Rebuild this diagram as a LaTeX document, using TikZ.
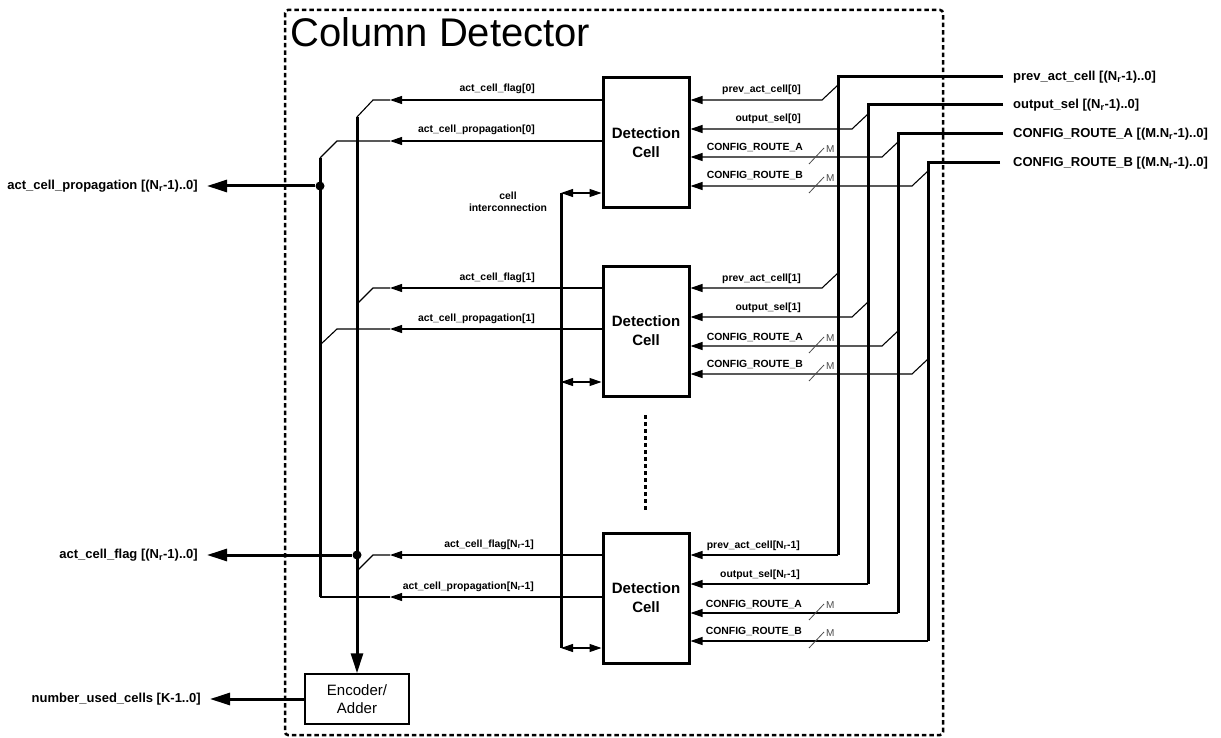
\documentclass[tikz,border=0pt]{standalone}
\usepackage{fontspec}
\setmainfont{Liberation Sans}
\usetikzlibrary{arrows.meta,calc}

\begin{document}
\begin{tikzpicture}[x=1pt,y=-1pt,
  bus/.style={line width=3pt,line cap=butt},
  sig/.style={line width=1.1pt},
  tipS/.style={-{Triangle[length=12pt,width=8pt]}},
  tipB/.style={-{Triangle[length=20pt,width=12pt]}},
  biarrow/.style={line width=1.1pt,{Triangle[length=12pt,width=8pt]}-{Triangle[length=12pt,width=8pt]}},
  cellbox/.style={draw,line width=3pt,minimum width=86pt,minimum height=130pt,
    align=center,font=\fontsize{15}{19}\selectfont\bfseries,inner sep=0pt},
  lbl/.style={font=\fontsize{10.4}{12}\selectfont\bfseries,inner sep=0pt},
  iolbl/.style={font=\fontsize{13}{15}\selectfont\bfseries,inner sep=0pt},
  mlbl/.style={font=\fontsize{10}{12}\selectfont,text=black!70,inner sep=0pt},
  slash/.style={line width=0.8pt,black!70},
  junction/.style={circle,fill,inner sep=0pt,minimum size=9pt},
]
\useasboundingbox (0,0) rectangle (1221,738);

% outer block
\draw[line width=2.5pt,dash pattern=on 4.5pt off 3pt,rounded corners=3pt] (285,10) rectangle (943,735);
\node[anchor=base west,font=\fontsize{40}{48}\selectfont,inner sep=0pt] (title) at (290,47) {Column Detector};

% detection cells
\node[cellbox] (c0) at (646,143) {Detection\\Cell};
\node[cellbox] (c1) at (646,331) {Detection\\Cell};
\node[cellbox] (c2) at (646,598) {Detection\\Cell};
\draw[line width=3pt,dash pattern=on 4pt off 3pt] (645,415) -- (645,512);

% input buses on the right
\coordinate (pA) at (838,77);  \coordinate (eA) at (1003,77);  \coordinate (qA) at (838,555);
\coordinate (pB) at (868,105); \coordinate (eB) at (1003,105); \coordinate (qB) at (868,584);
\coordinate (pC) at (898,134); \coordinate (eC) at (1003,134); \coordinate (qC) at (898,613);
\coordinate (pD) at (928,163); \coordinate (eD) at (1000,163); \coordinate (qD) at (928,641);
\draw[bus,line join=miter] (eA) -- (pA) -- (qA);
\draw[bus,line join=miter] (eB) -- (pB) -- (qB);
\draw[bus,line join=miter] (eC) -- (pC) -- (qC);
\draw[bus,line join=miter] (eD) -- (pD) -- (qD);
\node[iolbl,anchor=west] (lA) at (1013,77)  {prev\_act\_cell [(N\textsubscript{r}-1)..0]};
\node[iolbl,anchor=west] (lB) at (1013,105) {output\_sel [(N\textsubscript{r}-1)..0]};
\node[iolbl,anchor=west] (lC) at (1013,134) {CONFIG\_ROUTE\_A [(M.N\textsubscript{r}-1)..0]};
\node[iolbl,anchor=west] (lD) at (1013,163) {CONFIG\_ROUTE\_B [(M.N\textsubscript{r}-1)..0]};

% cell 0 inputs
\draw[sig,tipS] (pA |- 0,85)  -- (822,100) -- (c0.east |- 0,100);
\draw[sig,tipS] (pB |- 0,114) -- (852,129) -- (c0.east |- 0,129);
\draw[sig,tipS] (pC |- 0,142) -- (882,157) -- (c0.east |- 0,157);
\draw[sig,tipS] (pD |- 0,171) -- (912,186) -- (c0.east |- 0,186);
\node[lbl,anchor=base east] at (801,93)  {prev\_act\_cell[0]};
\node[lbl,anchor=base east] at (801,122) {output\_sel[0]};
\node[lbl,anchor=base east] at (803,151) {CONFIG\_ROUTE\_A};
\node[lbl,anchor=base east] at (803,179) {CONFIG\_ROUTE\_B};
\draw[slash] (809,164) -- (824,148); \node[mlbl,anchor=west] at (826,149) {M};
\draw[slash] (809,193) -- (824,177); \node[mlbl,anchor=west] at (826,178) {M};

% cell 1 inputs
\draw[sig,tipS] (pA |- 0,273) -- (822,288) -- (c1.east |- 0,288);
\draw[sig,tipS] (pB |- 0,302) -- (852,317) -- (c1.east |- 0,317);
\draw[sig,tipS] (pC |- 0,331) -- (882,346) -- (c1.east |- 0,346);
\draw[sig,tipS] (pD |- 0,359) -- (912,374) -- (c1.east |- 0,374);
\node[lbl,anchor=base east] at (801,281) {prev\_act\_cell[1]};
\node[lbl,anchor=base east] at (801,310) {output\_sel[1]};
\node[lbl,anchor=base east] at (803,340) {CONFIG\_ROUTE\_A};
\node[lbl,anchor=base east] at (803,367) {CONFIG\_ROUTE\_B};
\draw[slash] (809,353) -- (824,337); \node[mlbl,anchor=west] at (826,338) {M};
\draw[slash] (809,381) -- (824,365); \node[mlbl,anchor=west] at (826,366) {M};

% last cell inputs
\draw[sig,tipS] (qA) -- (c2.east |- qA);
\draw[sig,tipS] (qB) -- (c2.east |- qB);
\draw[sig,tipS] (qC) -- (c2.east |- qC);
\draw[sig,tipS] (qD) -- (c2.east |- qD);
\node[lbl,anchor=base east] at (800,548) {prev\_act\_cell[N\textsubscript{r}-1]};
\node[lbl,anchor=base east] at (800,577) {output\_sel[N\textsubscript{r}-1]};
\node[lbl,anchor=base east] at (802,607) {CONFIG\_ROUTE\_A};
\node[lbl,anchor=base east] at (802,634) {CONFIG\_ROUTE\_B};
\draw[slash] (809,620) -- (824,604); \node[mlbl,anchor=west] at (826,605) {M};
\draw[slash] (809,648) -- (824,632); \node[mlbl,anchor=west] at (826,633) {M};

% cell interconnection
\coordinate (ic) at (561,193);
\draw[bus] (ic) -- (561,648);
\draw[biarrow] (ic) -- (c0.west |- ic);
\draw[biarrow] (561,382) -- (c1.west |- 0,382);
\draw[biarrow] (561,648) -- (c2.west |- 0,648);
\node[lbl,align=center] (iclbl) at (508,202) {cell\\interconnection};

% output buses on the left
\coordinate (fb) at (357,0);
\coordinate (pb) at (320,0);
\node[draw,line width=1.5pt,minimum width=104pt,minimum height=50pt,align=center,
      font=\fontsize{15}{18}\selectfont,inner sep=0pt] (enc) at (357,699) {Encoder/\\Adder};
\draw[bus] (pb |- 0,158) -- (pb |- 0,597);
\draw[bus,tipB] (fb |- 0,117) -- (enc.north);
\node[junction] (j1) at (pb |- 0,186) {};
\node[junction] (j2) at (fb |- 0,555) {};

% cell 0 outputs
\draw[sig,tipS] (c0.west |- 0,100) -- (390,100);
\draw[sig] (390,100) -- (373,100) -- (fb |- 0,117);
\draw[sig,tipS] (c0.west |- 0,141) -- (390,141);
\draw[sig] (390,141) -- (337,141) -- (pb |- 0,158);
\node[lbl,anchor=base east] at (535,92)  {act\_cell\_flag[0]};
\node[lbl,anchor=base east] at (535,133) {act\_cell\_propagation[0]};

% cell 1 outputs
\draw[sig,tipS] (c1.west |- 0,288) -- (390,288);
\draw[sig] (390,288) -- (373,288) -- (fb |- 0,304);
\draw[sig,tipS] (c1.west |- 0,329) -- (390,329);
\draw[sig] (390,329) -- (337,329) -- (pb |- 0,345);
\node[lbl,anchor=base east] at (535,280) {act\_cell\_flag[1]};
\node[lbl,anchor=base east] at (535,321) {act\_cell\_propagation[1]};

% last cell outputs
\draw[sig,tipS] (c2.west |- 0,555) -- (390,555);
\draw[sig] (390,555) -- (373,555) -- (fb |- 0,571);
\draw[sig,tipS] (c2.west |- 0,597) -- (390,597);
\draw[sig] (390,597) -- (pb |- 0,597);
\node[lbl,anchor=base east] at (534,547) {act\_cell\_flag[N\textsubscript{r}-1]};
\node[lbl,anchor=base east] at (534,589) {act\_cell\_propagation[N\textsubscript{r}-1]};

% block outputs
\draw[bus,tipB] (j1) -- (207,186);
\draw[bus,tipB] (j2) -- (207,555);
\draw[bus,tipB] (enc.west) -- (210,699);
\node[iolbl,anchor=east] (oP) at (198,186) {act\_cell\_propagation [(N\textsubscript{r}-1)..0]};
\node[iolbl,anchor=east] (oF) at (198,555) {act\_cell\_flag [(N\textsubscript{r}-1)..0]};
\node[iolbl,anchor=east] (oN) at (201,699) {number\_used\_cells [K-1..0]};
\end{tikzpicture}
\end{document}
